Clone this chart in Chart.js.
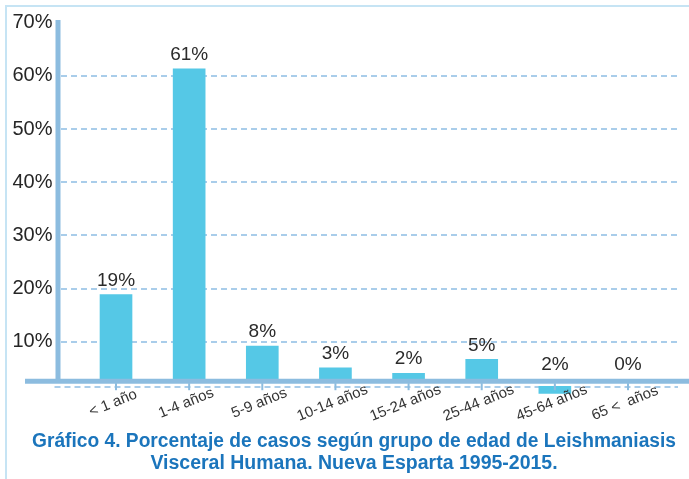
<!DOCTYPE html>
<html lang="es">
<head>
<meta charset="utf-8">
<script src="https://cdn.jsdelivr.net/npm/chart.js@4.4.1/dist/chart.umd.min.js"></script>
<style>
  html, body { margin: 0; padding: 0; background: #fff; }
  #marco { position: absolute; left: 5px; top: 5px; width: 800px; height: 600px; border-left: 2px solid #c6e4f4; border-top: 2px solid #c6e4f4; }
  #caja { position: absolute; left: 0; top: 0; width: 689px; height: 479px; }
</style>
</head>
<body>
<div id="marco"></div>
<div id="caja"><canvas id="grafico"></canvas></div>
<script>
const grupos = ['< 1 año', '1-4 años', '5-9 años', '10-14 años', '15-24 años', '25-44 años', '45-64 años', '65 <  años'];
const porcentajes = [19, 61, 8, 3, 2, 5, 2, 0];
// extremos de cada barra tal como aparecen en el gráfico original
const inicioBarra = [2.6, 2.6, 2.6, 2.6, 2.6, 2.6, 0.3, 2.6];
const finBarra = [18.9, 61.3, 9.2, 5.1, 4.1, 6.7, 1.65, 2.6];
const titulo = [
    'Gráfico 4. Porcentaje de casos según grupo de edad de Leishmaniasis',
    'Visceral Humana. Nueva Esparta 1995-2015.'
];

const colorEje = '#8cbcdf';
const colorGrilla = '#a9cdea';
const fuente = '"Liberation Sans", Arial, sans-serif';

const ejes = {
    id: 'ejes',
    afterLayout(chart) {
        // título algo corrido a la derecha y comprimido como en el original
        const t = chart.titleBlock;
        if (t) {
            const centro = (t.left + t.right) / 2 + 10;
            t.left = centro - 322;
            t.right = centro + 322;
        }
    },
    beforeDatasetsDraw(chart) {
        const { ctx, chartArea, scales: { y } } = chart;
        const yBase = y.getPixelForValue(1.5);
        ctx.save();
        ctx.strokeStyle = colorGrilla;
        ctx.lineWidth = 2;
        ctx.setLineDash([6, 4]);
        ctx.beginPath();
        ctx.moveTo(chartArea.left - 6, yBase);
        ctx.lineTo(chartArea.right - 2, yBase);
        ctx.stroke();
        ctx.restore();
    },
    afterDatasetsDraw(chart) {
        const { ctx, chartArea, width, scales: { x, y } } = chart;
        const yEje = y.getPixelForValue(2.6);
        ctx.save();
        ctx.strokeStyle = colorEje;
        ctx.lineWidth = 5;
        // eje vertical
        ctx.beginPath();
        ctx.moveTo(chartArea.left - 2.5, chartArea.top);
        ctx.lineTo(chartArea.left - 2.5, yEje);
        ctx.stroke();
        // eje horizontal
        ctx.beginPath();
        ctx.moveTo(25, yEje);
        ctx.lineTo(width, yEje);
        ctx.stroke();
        // marcas
        ctx.lineWidth = 2;
        grupos.forEach((g, i) => {
            const px = x.getPixelForValue(i);
            ctx.beginPath();
            ctx.moveTo(px, yEje + 2);
            ctx.lineTo(px, yEje + 9);
            ctx.stroke();
        });
        // nombres de los grupos
        ctx.fillStyle = '#333';
        ctx.font = '15px ' + fuente;
        ctx.textAlign = 'center';
        ctx.textBaseline = 'middle';
        grupos.forEach((g, i) => {
            ctx.save();
            ctx.translate(x.getPixelForValue(i) - 3, yEje + 22);
            ctx.rotate(-22 * Math.PI / 180);
            ctx.fillText(g, 0, 0);
            ctx.restore();
        });
        // valores
        ctx.fillStyle = '#2b2b2b';
        ctx.font = '19px ' + fuente;
        porcentajes.forEach((v, i) => {
            const tope = Math.min(y.getPixelForValue(finBarra[i]), yEje - 2.5);
            ctx.fillText(v + '%', x.getPixelForValue(i), tope - 14);
        });
        ctx.restore();
    }
};

const ctx = document.getElementById('grafico').getContext('2d');
new Chart(ctx, {
    type: 'bar',
    data: {
        datasets: [{
            data: grupos.map((g, i) => ({ x: i, y: [inicioBarra[i], finBarra[i]] })),
            backgroundColor: '#55c8e6',
            borderWidth: 0,
            barThickness: 32
        }]
    },
    options: {
        responsive: true,
        maintainAspectRatio: false,
        animation: false,
        layout: { padding: { left: 8, right: 9, top: 19, bottom: 0 } },
        plugins: {
            legend: { display: false },
            tooltip: { enabled: false },
            title: {
                display: true,
                position: 'bottom',
                text: titulo,
                color: '#1b75bc',
                font: { family: fuente, size: 19.5, weight: 'bold', lineHeight: 22 / 19.5 },
                padding: { top: 20, bottom: 4 }
            }
        },
        scales: {
            x: {
                type: 'linear',
                offset: false,
                min: -0.759,
                max: 7.711,
                display: false
            },
            y: {
                min: -3,
                max: 70.5,
                afterFit(scale) { scale.width = 52.5; },
                border: { display: false, dash: [6, 4] },
                grid: {
                    color: c => (c.tick.value >= 10 && c.tick.value <= 60) ? colorGrilla : 'transparent',
                    lineWidth: 2,
                    drawTicks: false
                },
                ticks: {
                    stepSize: 10,
                    includeBounds: false,
                    padding: 8,
                    color: '#262626',
                    font: { family: fuente, size: 20 },
                    callback: v => v >= 10 ? v + '%' : ''
                }
            }
        }
    },
    plugins: [ejes]
});
</script>
</body>
</html>
